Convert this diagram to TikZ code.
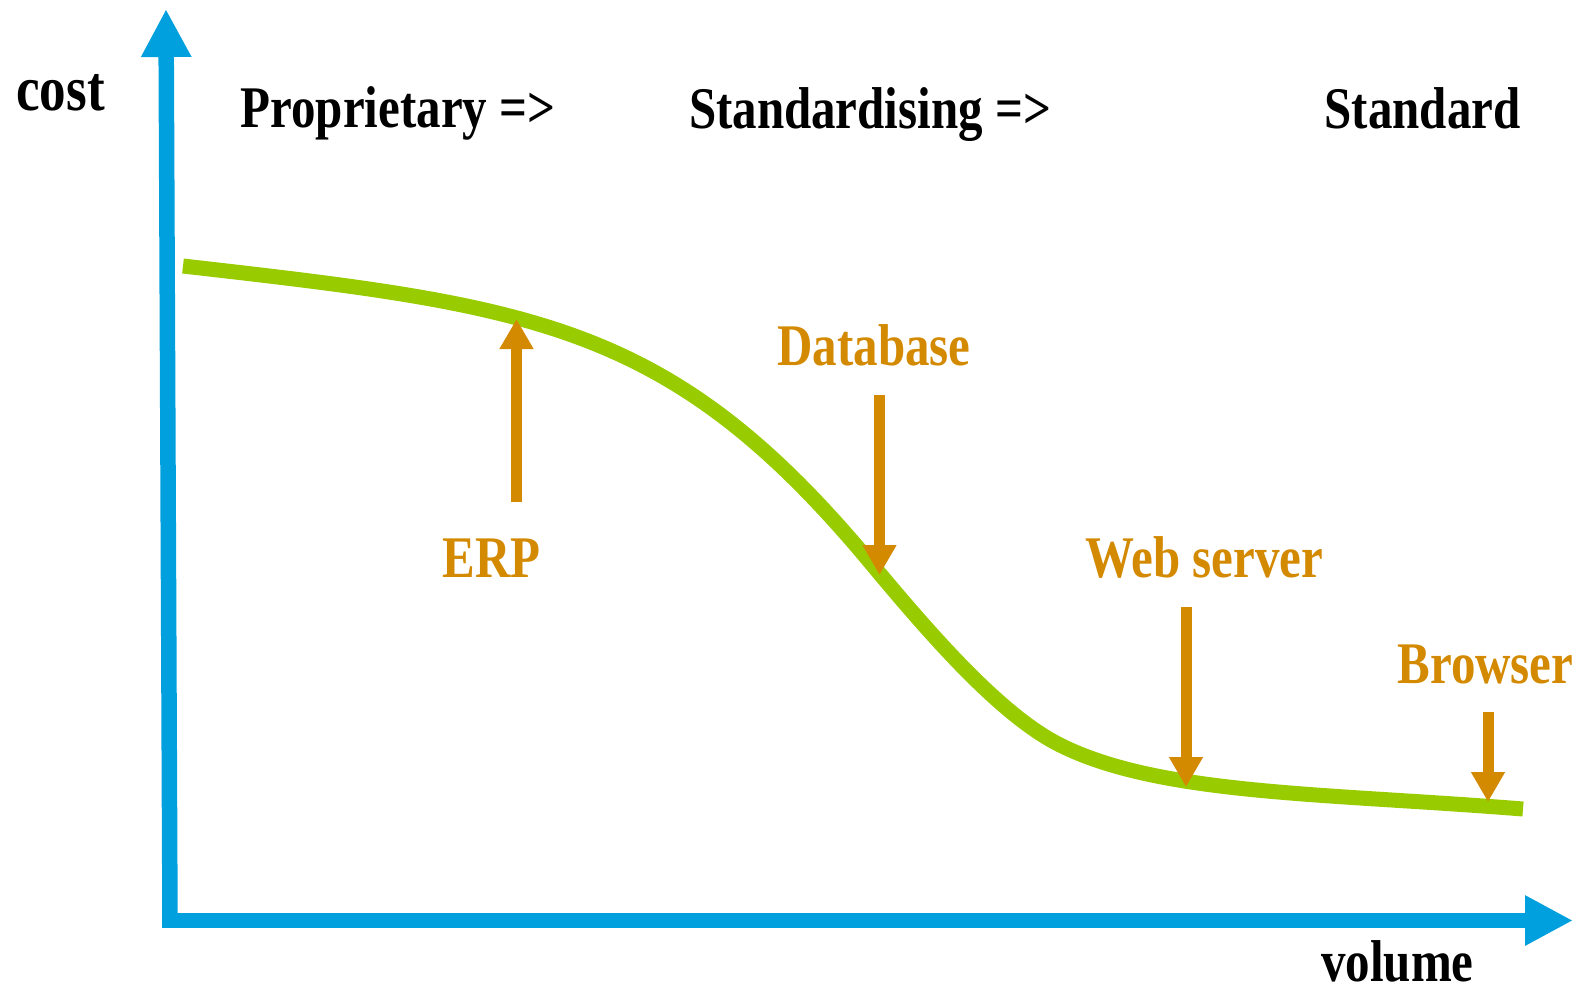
\documentclass[tikz,border=0pt]{standalone}
\usepackage{fontspec}
\newfontfamily\lab{Liberation Serif}[FakeStretch=0.83]
\usetikzlibrary{arrows.meta}
\definecolor{axisblue}{RGB}{0,160,222}
\definecolor{curvegreen}{RGB}{153,204,0}
\definecolor{markorange}{RGB}{211,137,0}
\tikzset{
  txt/.style={inner sep=0pt, anchor=base, font=\lab\bfseries\fontsize{59}{59}\selectfont},
  blacktxt/.style={txt, text=black},
  orangetxt/.style={txt, text=markorange},
  axis/.style={draw=axisblue, line width=15.5pt, line cap=butt, -{Triangle[length=48pt,width=47pt]}},
  pointer/.style={draw=markorange, line width=11pt, line cap=butt, -{Triangle[length=30pt,width=32pt]}},
  sigmoid/.style={draw=curvegreen, line width=15pt, line cap=butt}
}
\begin{document}
\begin{tikzpicture}[x=1pt,y=-1pt]
\useasboundingbox (0,0) rectangle (1589,989);
% axes
\coordinate (origin) at (170,922);
\coordinate (ytop) at (166,9);
\coordinate (xstart) at (162,920.5);
\coordinate (xend) at (1573,920.5);
\draw[axis] (origin) -- (ytop);
\draw[axis] (xstart) -- (xend);
% curve
\coordinate (c0) at (183,266);
\coordinate (c1) at (870,562);
\coordinate (c2) at (1060,745);
\coordinate (c3) at (1523,809);
\draw[sigmoid] (c0) .. controls (533,306) and (670,322) .. (c1)
  .. controls (930,634) and (1000,715) .. (c2)
  .. controls (1160,795) and (1323,793) .. (c3);
% labels
\node[blacktxt, font=\lab\bfseries\fontsize{64}{64}\selectfont] (cost) at (60.5,110) {cost};
\node[blacktxt] (volume) at (1397.5,981) {volume};
\node[blacktxt] (prop) at (398,127) {Proprietary =>};
\node[blacktxt] (stdg) at (870,128) {Standardising =>};
\node[blacktxt] (std) at (1422.5,128) {Standard};
\node[orangetxt] (db) at (874,365) {Database};
\node[orangetxt] (erp) at (491.5,577) {ERP};
\node[orangetxt] (web) at (1204,577) {Web server};
\node[orangetxt] (brw) at (1485.5,683) {Browser};
% pointers
\coordinate (erpS) at (516.5,502);
\coordinate (erpT) at (516.5,319);
\coordinate (dbS) at (879.5,395);
\coordinate (dbT) at (879.5,575);
\coordinate (webS) at (1186,607);
\coordinate (webT) at (1186,787);
\coordinate (brwS) at (1488,712);
\coordinate (brwT) at (1488,802);
\draw[pointer] (erpS) -- (erpT);
\draw[pointer] (dbS) -- (dbT);
\draw[pointer] (webS) -- (webT);
\draw[pointer] (brwS) -- (brwT);
\end{tikzpicture}
\end{document}
